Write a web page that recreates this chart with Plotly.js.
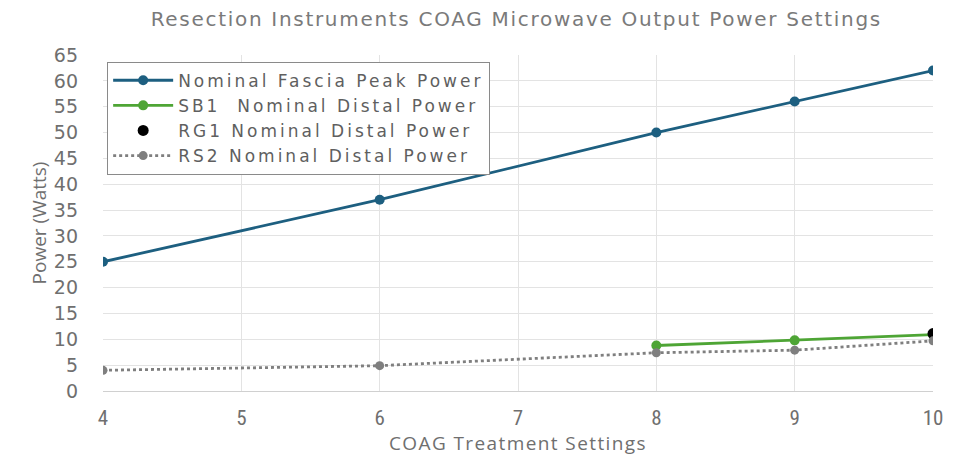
<!DOCTYPE html>
<html><head><meta charset="utf-8">
<script src="https://cdn.plot.ly/plotly-3.0.1.min.js"></script>
<style>html,body{margin:0;padding:0;background:#fff}
.legendtext{letter-spacing:3px}
.gtitle{letter-spacing:1.7px}
.xtitle{letter-spacing:1.4px}
</style>
</head><body><div id="chart" style="width:965px;height:470px"></div>
<script>
const fasciaX = [4, 6, 8, 9, 10];
const fasciaY = [25, 37, 50, 56, 62];
const sb1X = [8, 9, 10];
const sb1Y = [8.8, 9.8, 10.9];
const rg1X = [10];
const rg1Y = [11.1];
const rs2X = [4, 6, 8, 9, 10];
const rs2Y = [4, 4.9, 7.4, 7.9, 9.7];
const xTicks = [4, 5, 6, 7, 8, 9, 10];
const yTicks = [0, 5, 10, 15, 20, 25, 30, 35, 40, 45, 50, 55, 60, 65];

const wide = "DejaVu Sans, Open Sans, sans-serif";
const open = "Open Sans, Lato, sans-serif";
const narrow = "Liberation Sans Narrow, Roboto Condensed, Open Sans, sans-serif";
const traces = [
  {x: fasciaX, y: fasciaY, name: "Nominal Fascia Peak Power", mode: "lines+markers",
   line: {color: "#1d5f80", width: 2.8}, marker: {color: "#1d5f80", size: 10}},
  {x: sb1X, y: sb1Y, name: "SB1  Nominal Distal Power", mode: "lines+markers",
   line: {color: "#4ea535", width: 2.8}, marker: {color: "#4ea535", size: 10}},
  {x: rg1X, y: rg1Y, name: "RG1 Nominal Distal Power", mode: "markers",
   marker: {color: "#000000", size: 11}},
  {x: rs2X, y: rs2Y, name: "RS2 Nominal Distal Power", mode: "lines+markers",
   line: {color: "#7f7f7f", width: 2.8, dash: "dot"}, marker: {color: "#7f7f7f", size: 9, symbol: "circle"}}
];
const layout = {
  width: 965, height: 470,
  margin: {l: 103, r: 32, t: 55, b: 79},
  paper_bgcolor: "#fff", plot_bgcolor: "#fff",
  font: {family: wide, color: "#6f6f6f"},
  title: {text: "Resection Instruments COAG Microwave Output Power Settings",
          font: {size: 20, color: "#7a7a7a", family: wide}, x: 0.535, xanchor: "center", y: 0.975, yanchor: "top"},
  xaxis: {range: [4, 10], tickvals: xTicks, ticktext: xTicks.map(String),
          showgrid: true, gridcolor: "#e3e3e3", zeroline: false,
          showline: true, linecolor: "#d0d0d0", ticks: "", ticklabelstandoff: 8,
          tickfont: {size: 21, color: "#6f6f6f", family: narrow},
          title: {text: "COAG Treatment Settings", font: {size: 19, color: "#6f6f6f", family: open}, standoff: 0}},
  yaxis: {range: [0, 65], tickvals: yTicks, ticktext: yTicks.map(String),
          showgrid: true, gridcolor: "#e3e3e3", zeroline: false, showline: false, ticks: "",
          ticklabelstandoff: 24,
          tickfont: {size: 19, color: "#6f6f6f", family: wide},
          title: {text: "Power (Watts)", font: {size: 19, color: "#6f6f6f", family: open}, standoff: 2}},
  legend: {x: 0.005, y: 0.98, xanchor: "left", yanchor: "top", bgcolor: "#fff",
           bordercolor: "#8a8a8a", borderwidth: 1, font: {size: 17, color: "#5f5f5f", family: wide},
           tracegroupgap: 0, itemwidth: 60},
  showlegend: true
};
Plotly.newPlot("chart", traces, layout, {displayModeBar: false, staticPlot: true});
</script></body></html>
